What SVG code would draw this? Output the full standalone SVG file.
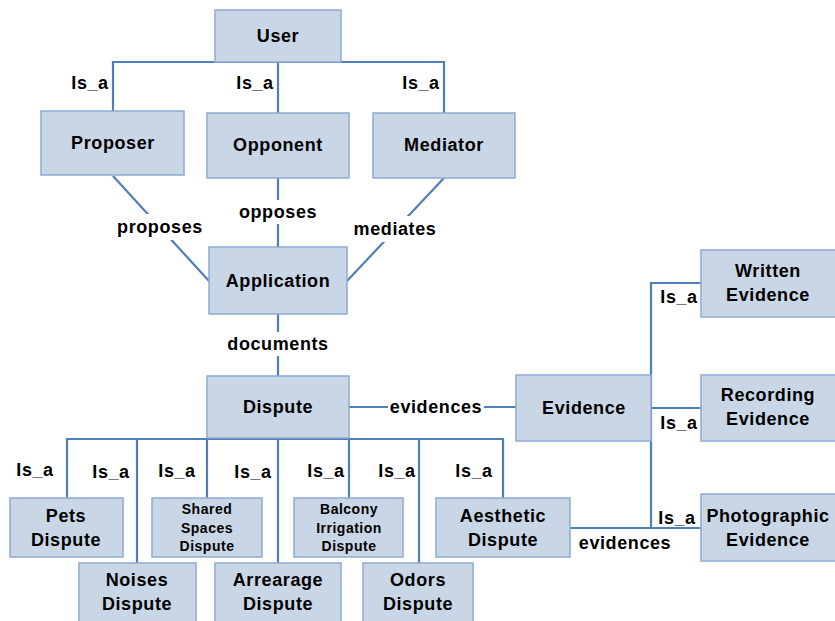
<svg xmlns="http://www.w3.org/2000/svg" width="835" height="621" viewBox="0 0 835 621">
<style>
.n rect{fill:#c9d6e6;stroke:#8eaad2;stroke-width:1.5}
text{font-family:"Liberation Sans",Arial,sans-serif;font-weight:bold;font-size:18px;letter-spacing:0.6px;fill:#000;text-anchor:middle}
.s{font-size:14px;letter-spacing:0.5px}
.c line,.c polyline{stroke:#4f7fb9;stroke-width:2.2;fill:none}
.lb{fill:#fff}
</style>
<rect width="835" height="621" fill="#fff"/>
<g class="c" id="connectors">
<polyline points="113,112 113,62 444,62 444,113"/>
<line x1="278" y1="62" x2="278" y2="113"/>
<line x1="113" y1="176" x2="209" y2="281"/>
<line x1="278" y1="178" x2="278" y2="247"/>
<line x1="444" y1="178" x2="347" y2="281"/>
<line x1="278" y1="314" x2="278" y2="376"/>
<line x1="349" y1="407" x2="516" y2="407"/>
<polyline points="67,498 67,439 503,439 503,498"/>
<line x1="137" y1="439" x2="137" y2="563"/>
<line x1="207" y1="439" x2="207" y2="498"/>
<line x1="278" y1="439" x2="278" y2="563"/>
<line x1="349" y1="439" x2="349" y2="498"/>
<line x1="419" y1="439" x2="419" y2="563"/>
<polyline points="701,283 651,283 651,528 701,528"/>
<line x1="651" y1="408" x2="701" y2="408"/>
<line x1="570" y1="528" x2="651" y2="528"/>
<rect class="lb" x="113" y="214" width="94" height="26"/>
<rect class="lb" x="234" y="200" width="88" height="24"/>
<rect class="lb" x="350" y="216" width="90" height="26"/>
<rect class="lb" x="222" y="332" width="112" height="24"/>
<rect class="lb" x="388" y="395" width="96" height="24"/>
<text x="90" y="89">Is_a</text>
<text x="255" y="89">Is_a</text>
<text x="421" y="89">Is_a</text>
<text x="160" y="233">proposes</text>
<text x="278" y="218">opposes</text>
<text x="395" y="235">mediates</text>
<text x="278" y="350">documents</text>
<text x="436" y="413">evidences</text>
<text x="35" y="476">Is_a</text>
<text x="111" y="478">Is_a</text>
<text x="177" y="477">Is_a</text>
<text x="253" y="478">Is_a</text>
<text x="326" y="477">Is_a</text>
<text x="397" y="477">Is_a</text>
<text x="474" y="477">Is_a</text>
<text x="679" y="303">Is_a</text>
<text x="679" y="429">Is_a</text>
<text x="677" y="524">Is_a</text>
<text x="625" y="549">evidences</text>
</g>
<g class="n" id="user"><rect x="215" y="10" width="126" height="52"/><text x="278" y="42">User</text></g>
<g class="n" id="proposer"><rect x="41" y="111" width="143" height="64"/><text x="113" y="149">Proposer</text></g>
<g class="n" id="opponent"><rect x="207" y="113" width="142" height="65"/><text x="278" y="151">Opponent</text></g>
<g class="n" id="mediator"><rect x="373" y="113" width="142" height="65"/><text x="444" y="151">Mediator</text></g>
<g class="n" id="application"><rect x="209" y="247" width="138" height="67"/><text x="278" y="287">Application</text></g>
<g class="n" id="dispute"><rect x="207" y="376" width="142" height="62"/><text x="278" y="413">Dispute</text></g>
<g class="n" id="evidence"><rect x="516" y="375" width="135" height="66"/><text x="584" y="414">Evidence</text></g>
<g class="n" id="written"><rect x="701" y="250" width="136" height="67"/><text x="768" y="277">Written</text><text x="768" y="301">Evidence</text></g>
<g class="n" id="recording"><rect x="701" y="375" width="136" height="66"/><text x="768" y="401">Recording</text><text x="768" y="425">Evidence</text></g>
<g class="n" id="photographic"><rect x="701" y="494" width="136" height="67"/><text x="768" y="522">Photographic</text><text x="768" y="546">Evidence</text></g>
<g class="n" id="pets"><rect x="10" y="498" width="113" height="59"/><text x="66" y="522">Pets</text><text x="66" y="546">Dispute</text></g>
<g class="n" id="shared"><rect x="152" y="498" width="110" height="59"/><text class="s" x="207" y="514">Shared</text><text class="s" x="207" y="533">Spaces</text><text class="s" x="207" y="551">Dispute</text></g>
<g class="n" id="balcony"><rect x="294" y="498" width="109" height="59"/><text class="s" x="349" y="514">Balcony</text><text class="s" x="349" y="533">Irrigation</text><text class="s" x="349" y="551">Dispute</text></g>
<g class="n" id="aesthetic"><rect x="436" y="498" width="134" height="59"/><text x="503" y="522">Aesthetic</text><text x="503" y="546">Dispute</text></g>
<g class="n" id="noises"><rect x="79" y="563" width="117" height="62"/><text x="137" y="586">Noises</text><text x="137" y="610">Dispute</text></g>
<g class="n" id="arrearage"><rect x="215" y="563" width="126" height="62"/><text x="278" y="586">Arrearage</text><text x="278" y="610">Dispute</text></g>
<g class="n" id="odors"><rect x="363" y="563" width="110" height="62"/><text x="418" y="586">Odors</text><text x="418" y="610">Dispute</text></g>
</svg>
